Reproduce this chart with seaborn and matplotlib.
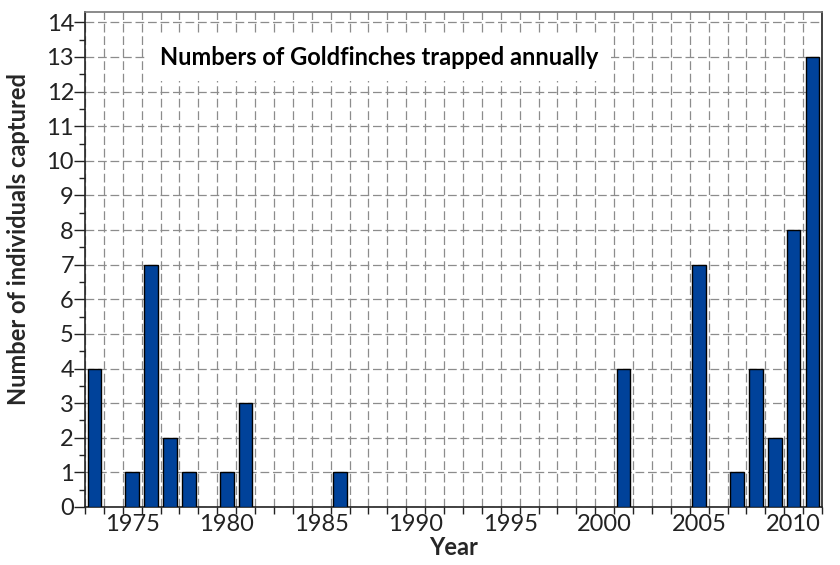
import matplotlib
matplotlib.use("Agg")
import matplotlib.pyplot as plt
from matplotlib.ticker import FixedLocator, MultipleLocator
import seaborn as sns
import pandas as pd

# Annual goldfinch captures (years with no captures are omitted)
years = [1973, 1975, 1976, 1977, 1978, 1980, 1981, 1986,
         2001, 2005, 2007, 2008, 2009, 2010, 2011]
counts = [4, 1, 7, 2, 1, 1, 3, 1, 4, 7, 1, 4, 2, 8, 13]
year_labels = [1975, 1980, 1985, 1990, 1995, 2000, 2005, 2010]

first_year, last_year = 1973, 2011

sns.set_theme(style="white")
plt.rcParams["font.family"] = ["Lato", "DejaVu Sans"]

df = pd.DataFrame({"Year": years, "Count": counts})

fig = plt.figure(figsize=(8.4, 5.65), dpi=100)
ax = fig.add_axes([0.1012, 0.1027, 0.8774, 0.8761])

sns.barplot(data=df, x="Year", y="Count", native_scale=True, width=0.72,
            color="#00429a", saturation=1, edgecolor="black", linewidth=1,
            ax=ax, zorder=3)

ax.set_xlim(first_year - 0.5, last_year + 0.5)
ax.set_ylim(0, 14.3)

# Year labels sit under bar centres; grid lines and ticks fall between bars
ax.xaxis.set_major_locator(FixedLocator(year_labels))
ax.xaxis.set_minor_locator(FixedLocator(
    [y + 0.5 for y in range(first_year - 1, last_year + 1)]))
ax.set_xticklabels([str(y) for y in year_labels])
ax.yaxis.set_major_locator(MultipleLocator(1))
ax.yaxis.set_minor_locator(MultipleLocator(0.5))

ax.tick_params(axis="x", which="major", length=0, pad=5, labelsize=17,
               labelcolor="#222222")
ax.tick_params(axis="x", which="minor", length=5, width=1, color="#222222",
               direction="out", bottom=True)
ax.tick_params(axis="y", which="major", length=8, width=1, color="#222222",
               direction="out", left=True, pad=0, labelsize=17,
               labelcolor="#222222")
ax.tick_params(axis="y", which="minor", length=4, width=1, color="#222222",
               direction="out", left=True)

grid_style = dict(color="#8c8c8c", linewidth=0.9, linestyle=(0, (7, 3)))
ax.grid(False)
ax.xaxis.grid(True, which="minor", **grid_style)
ax.yaxis.grid(True, which="major", **grid_style)
ax.set_axisbelow(True)

for side in ["left", "bottom", "right"]:
    ax.spines[side].set_visible(True)
    ax.spines[side].set_color("#222222")
    ax.spines[side].set_linewidth(1.2)
ax.spines["top"].set_visible(True)
ax.spines["top"].set_color("#777777")
ax.spines["top"].set_linewidth(1.2)

ax.set_xlabel("Year", fontsize=17, fontweight="bold", labelpad=1)
ax.set_ylabel("Number of individuals captured", fontsize=17,
              fontweight="bold")
ax.yaxis.set_label_coords(-0.075, 0.541)

ax.text(0.102, 0.909, "Numbers of Goldfinches trapped annually",
        transform=ax.transAxes, fontsize=17, fontweight="bold",
        va="center", ha="left", color="black", zorder=5,
        bbox=dict(facecolor="white", edgecolor="none", pad=9))

fig.savefig("out.png", dpi=100)
